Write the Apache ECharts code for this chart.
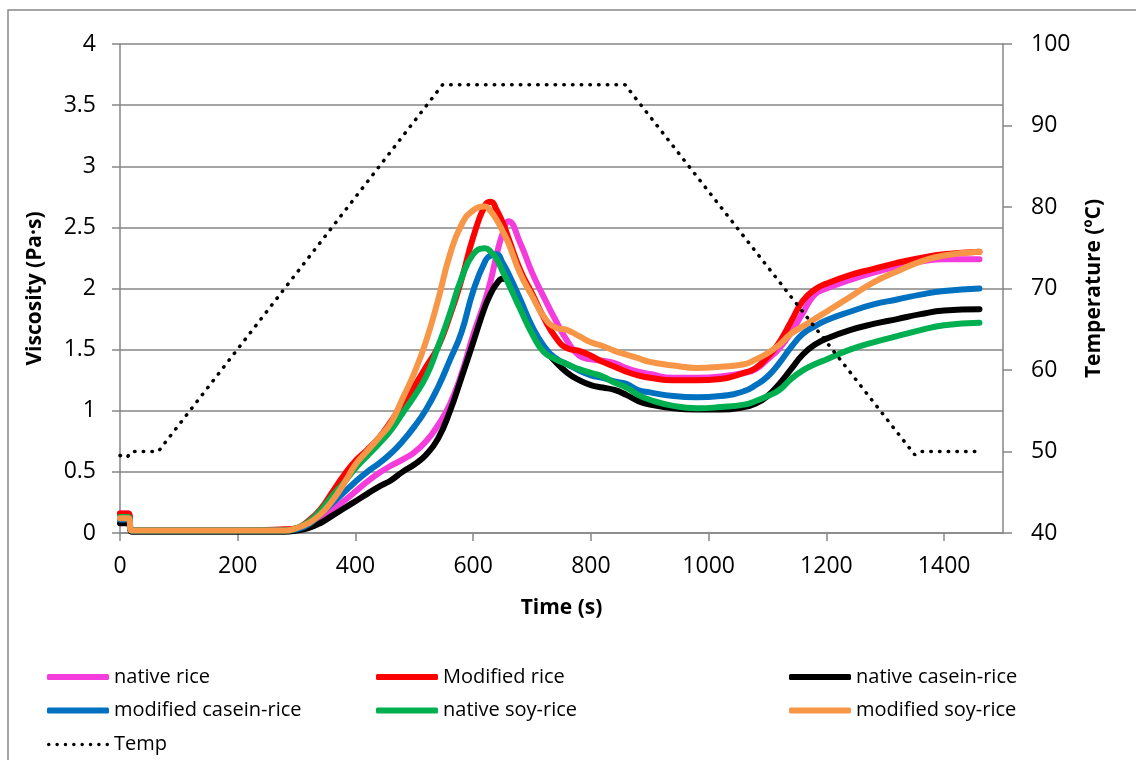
<!DOCTYPE html>
<html><head><meta charset="utf-8">
<script src="https://cdn.jsdelivr.net/npm/echarts@6/dist/echarts.min.js"></script>
<style>html,body{margin:0;padding:0;background:#fff}#c{width:1136px;height:760px}</style>
</head><body><div id="c"></div>
<script>
const time = [0,14,20,100,200,280,300,320,340,360,380,400,420,440,460,480,500,520,540,560,580,600,620,630,640,650,660,680,700,720,740,760,780,800,820,840,860,880,900,940,980,1020,1060,1080,1100,1120,1140,1160,1180,1200,1240,1280,1320,1360,1400,1460];
const nativeRice = [0.16,0.16,0.02,0.02,0.02,0.02,0.03,0.06,0.12,0.19,0.26,0.34,0.42,0.49,0.55,0.60,0.66,0.75,0.88,1.05,1.30,1.62,1.90,2.07,2.28,2.45,2.55,2.37,2.13,1.93,1.74,1.57,1.45,1.42,1.41,1.39,1.35,1.32,1.30,1.27,1.27,1.28,1.31,1.34,1.42,1.51,1.64,1.80,1.95,2.00,2.07,2.13,2.18,2.22,2.24,2.24];
const modifiedRice = [0.16,0.16,0.02,0.02,0.02,0.03,0.04,0.10,0.19,0.33,0.47,0.59,0.68,0.78,0.91,1.06,1.20,1.36,1.52,1.77,2.07,2.42,2.68,2.71,2.64,2.54,2.41,2.15,1.96,1.76,1.60,1.51,1.49,1.45,1.40,1.36,1.32,1.29,1.27,1.25,1.25,1.26,1.31,1.35,1.44,1.56,1.73,1.90,1.99,2.04,2.11,2.16,2.21,2.25,2.28,2.30];
const nativeCaseinRice = [0.08,0.08,0.01,0.01,0.01,0.01,0.02,0.04,0.08,0.14,0.20,0.26,0.32,0.38,0.43,0.50,0.56,0.64,0.77,0.99,1.27,1.56,1.85,1.96,2.04,2.08,2.07,1.87,1.67,1.51,1.40,1.31,1.25,1.21,1.19,1.17,1.13,1.08,1.05,1.02,1.01,1.01,1.03,1.06,1.12,1.22,1.34,1.46,1.54,1.59,1.66,1.71,1.75,1.79,1.82,1.83];
const modifiedCaseinRice = [0.11,0.11,0.02,0.02,0.02,0.02,0.03,0.07,0.15,0.24,0.33,0.42,0.50,0.57,0.65,0.75,0.87,1.01,1.19,1.41,1.64,1.98,2.22,2.27,2.28,2.21,2.12,1.91,1.69,1.53,1.43,1.38,1.33,1.29,1.27,1.24,1.22,1.17,1.15,1.12,1.11,1.12,1.16,1.21,1.28,1.39,1.52,1.63,1.69,1.74,1.81,1.87,1.91,1.95,1.98,2.00];
const nativeSoyRice = [0.13,0.13,0.02,0.02,0.02,0.02,0.04,0.09,0.18,0.30,0.41,0.53,0.63,0.73,0.84,0.98,1.12,1.28,1.52,1.79,2.08,2.28,2.33,2.30,2.24,2.14,2.04,1.83,1.63,1.48,1.42,1.38,1.34,1.31,1.28,1.23,1.19,1.13,1.09,1.04,1.02,1.03,1.05,1.08,1.12,1.17,1.26,1.33,1.38,1.42,1.50,1.56,1.61,1.66,1.70,1.72];
const modifiedSoyRice = [0.12,0.12,0.02,0.02,0.02,0.02,0.04,0.08,0.15,0.26,0.40,0.56,0.67,0.78,0.90,1.10,1.31,1.57,1.90,2.27,2.52,2.64,2.67,2.63,2.56,2.47,2.37,2.12,1.94,1.77,1.68,1.66,1.61,1.56,1.53,1.49,1.46,1.43,1.40,1.37,1.35,1.36,1.38,1.42,1.47,1.54,1.63,1.69,1.75,1.81,1.93,2.05,2.14,2.22,2.27,2.30];
const tempTime = [0,12,20,65,548,858,1350,1360,1460];
const tempValues = [49.5,49.3,50,50,95,95,49.6,50,50];
const xTicks = {min:0, max:1500, interval:200};
const yTicks = {min:0, max:4, interval:0.5};
const y2Ticks = {min:40, max:100, interval:10};

const names = ['native rice','Modified rice','native casein-rice','modified casein-rice','native soy-rice','modified soy-rice'];
const colors = ['#F43BDB','#FF0000','#000000','#0070C0','#00B050','#F79646'];
const values = [nativeRice, modifiedRice, nativeCaseinRice, modifiedCaseinRice, nativeSoyRice, modifiedSoyRice];

const FONT = '"Open Sans", sans-serif';
const AX = '#868686';

const series = names.map((n,i)=>({
  name:n, type:'line', symbol:'none', showSymbol:false, smooth:0.5,
  data: time.map((t,j)=>[t, values[i][j]]),
  lineStyle:{color:colors[i], width:6, cap:'round', join:'round'},
  itemStyle:{color:colors[i]},
  z: 2+i
}));
series.push({
  name:'Temp', type:'line', symbol:'none', showSymbol:false, yAxisIndex:1,
  data: tempTime.map((t,j)=>[t,tempValues[j]]),
  lineStyle:{color:'#000', width:3.5, type:[0.5,8.2], cap:'round'},
  itemStyle:{color:'#000'},
  z: 10
});

// dotted legend icon: 8 dots spread over the icon width
let dots = '';
for (let k = 0; k < 8; k++) {
  const cx = 1.75 + k * 8.36;
  dots += 'M' + (cx - 1.75) + ',1.75 a1.75,1.75 0 1,0 3.5,0 a1.75,1.75 0 1,0 -3.5,0 ';
}
const dotIcon = 'path://' + dots;

const txt = {fontFamily:FONT, fontSize:20, color:'#000', lineHeight:20};
const legendBase = {orient:'vertical', padding:0, itemWidth:62, itemHeight:6, itemGap:13.5,
  icon:'roundRect', textStyle:txt, selectedMode:false};

const chart = echarts.init(document.getElementById('c'));
chart.setOption({
  animation:false,
  backgroundColor:'#fff',
  textStyle:{fontFamily:FONT},
  graphic:[{type:'rect', shape:{x:8,y:10,width:1200,height:800}, style:{fill:'none', stroke:'#888', lineWidth:1.5}, silent:true}],
  grid:{left:120, right:133, top:44, bottom:227, containLabel:false, outerBoundsMode:'none'},
  legend:[
    Object.assign({}, legendBase, {left:47, top:667, data:['native rice','modified casein-rice']}),
    Object.assign({}, legendBase, {left:376, top:667, data:['Modified rice','native soy-rice']}),
    Object.assign({}, legendBase, {left:789, top:667, data:['native casein-rice','modified soy-rice']}),
    {orient:'vertical', padding:0, left:47, top:734.5, itemWidth:62, itemHeight:3.5, icon:dotIcon,
     textStyle:txt, selectedMode:false, data:['Temp']}
  ],
  xAxis:{type:'value', min:xTicks.min, max:xTicks.max, interval:xTicks.interval,
    name:'Time (s)', nameLocation:'middle', nameGap:65,
    nameTextStyle:{fontFamily:FONT, fontSize:21, fontWeight:'bold', color:'#000'},
    axisLine:{show:true, onZero:false, lineStyle:{color:AX, width:1.5}},
    axisTick:{show:true, inside:false, length:8, lineStyle:{color:AX, width:1.5}},
    axisLabel:{fontFamily:FONT, fontSize:23, color:'#000', margin:22, showMaxLabel:false,
      formatter:(v)=>String(v)},
    splitLine:{show:false}},
  yAxis:[
    {type:'value', min:yTicks.min, max:yTicks.max, interval:yTicks.interval, position:'left',
     name:'Viscosity (Pa·s)', nameLocation:'middle', nameGap:74, nameRotate:90,
     nameTextStyle:{fontFamily:FONT, fontSize:21, fontWeight:'bold', color:'#000'},
     axisLine:{show:true, lineStyle:{color:AX, width:1.5}},
     axisTick:{show:true, inside:false, length:8, lineStyle:{color:AX, width:1.5}},
     axisLabel:{fontFamily:FONT, fontSize:23, color:'#000', margin:24},
     splitLine:{show:true, lineStyle:{color:AX, width:1.5}}},
    {type:'value', min:y2Ticks.min, max:y2Ticks.max, interval:y2Ticks.interval, position:'right',
     name:'Temperature (ºC)', nameLocation:'middle', nameGap:81, nameRotate:90,
     nameTextStyle:{fontFamily:FONT, fontSize:21, fontWeight:'bold', color:'#000'},
     axisLine:{show:true, lineStyle:{color:AX, width:1.5}},
     axisTick:{show:true, inside:false, length:9, lineStyle:{color:AX, width:1.5}},
     axisLabel:{fontFamily:FONT, fontSize:23, color:'#000', margin:28},
     splitLine:{show:false}}
  ],
  series: series
});
</script></body></html>
